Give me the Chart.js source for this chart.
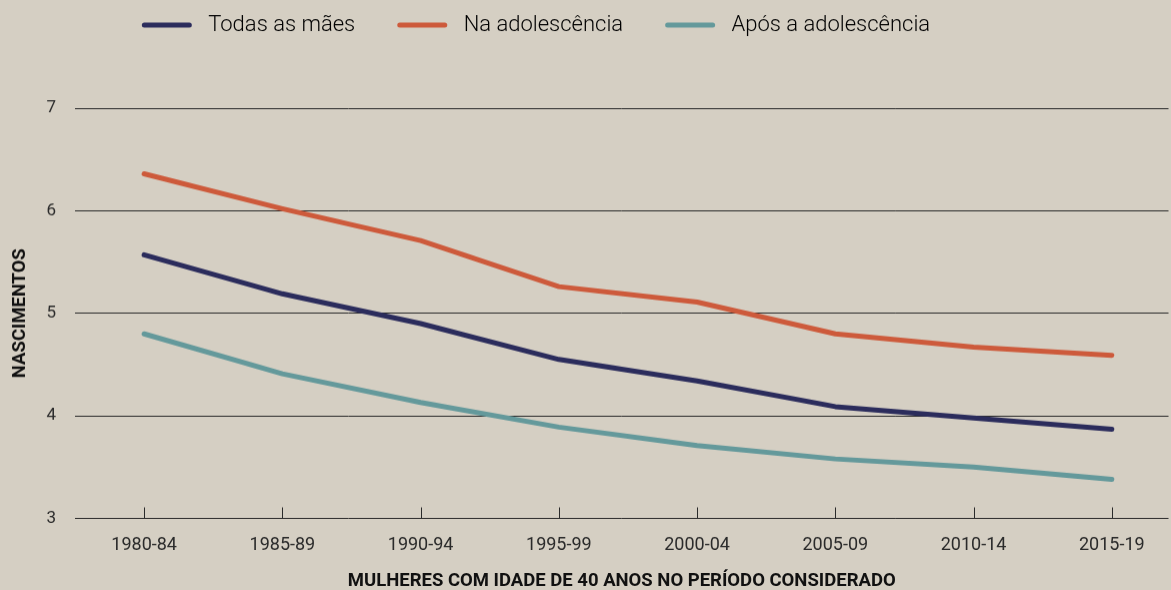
<!DOCTYPE html>
<html>
<head>
<meta charset="utf-8">
<script src="https://cdn.jsdelivr.net/npm/chart.js@4/dist/chart.umd.min.js"></script>
<style>
  html, body { margin: 0; padding: 0; background: #d5cfc3; }
  #wrap { width: 1171px; height: 590px; position: relative; }
</style>
</head>
<body>
<div id="wrap"><canvas id="chart"></canvas></div>
<script>
const periods = ['1980-84', '1985-89', '1990-94', '1995-99', '2000-04', '2005-09', '2010-14', '2015-19']
const todas_as_maes = [5.57, 5.19, 4.90, 4.55, 4.34, 4.09, 3.98, 3.87]
const na_adolescencia = [6.36, 6.02, 5.71, 5.26, 5.11, 4.80, 4.67, 4.59]
const apos_adolescencia = [4.80, 4.41, 4.13, 3.89, 3.71, 3.58, 3.50, 3.38]
const y_ticks = [3, 4, 5, 6, 7]

const ctx = document.querySelector('#chart')

function points(values) {
    return values.map((v, i) => { return { x: i, y: v } })
}

function line_dataset(label, values, color) {
    return {
        label: label,
        data: points(values),
        borderColor: color,
        backgroundColor: color,
        borderWidth: 5,
        borderCapStyle: 'round',
        borderJoinStyle: 'round',
        pointRadius: 0,
        tension: 0,
    }
}

// legend: keep room under it, then nudge it up/left
const legend_gap = {
    id: 'legend_gap',
    beforeInit(chart) {
        const fit = chart.legend.fit
        chart.legend.fit = function () {
            fit.bind(chart.legend)()
            this.height = 104
        }
    },
    beforeDraw(chart) {
        const l = chart.legend
        l.left -= 51
        l.right -= 51
        l.top -= 32
        l.bottom -= 32
        l.adjustHitBoxes()
    },
}

// small ticks pointing up from the axis
const inner_ticks = {
    id: 'inner_ticks',
    afterDraw(chart) {
        const x = chart.scales.x
        const bottom = chart.chartArea.bottom
        const c = chart.ctx
        c.save()
        c.strokeStyle = '#2a2a2a'
        c.lineWidth = 1
        x.ticks.forEach((t, i) => {
            const px = Math.round(x.getPixelForTick(i)) + 0.5
            c.beginPath()
            c.moveTo(px, bottom)
            c.lineTo(px, bottom - 11)
            c.stroke()
        })
        c.restore()
    },
}

Chart.defaults.font.family = 'Roboto, sans-serif'
Chart.defaults.color = '#2a2a2a'

const chart = new Chart(ctx, {
    type: 'line',
    data: {
        datasets: [
            line_dataset('Todas as mães', todas_as_maes, '#2b2c5c'),
            line_dataset('Na adolescência', na_adolescencia, '#cd5a3b'),
            line_dataset('Após a adolescência', apos_adolescencia, '#64999b'),
        ],
    },
    options: {
        responsive: false,
        animation: false,
        layout: {
            padding: { top: 4, right: -3, bottom: 0, left: 0 },
        },
        plugins: {
            tooltip: { enabled: false },
            legend: {
                position: 'top',
                labels: {
                    boxWidth: 50,
                    boxHeight: 5,
                    padding: 42,
                    color: '#2a2a2a',
                    font: { size: 22, weight: 300 },
                    generateLabels: (chart) => chart.data.datasets.map((d, i) => ({
                        text: ' ' + d.label,
                        fillStyle: d.borderColor,
                        strokeStyle: d.borderColor,
                        lineWidth: 0,
                        borderRadius: 2.5,
                        datasetIndex: i,
                    })),
                },
            },
        },
        scales: {
            x: {
                type: 'linear',
                min: -0.5,
                max: 7.41,
                afterBuildTicks: (axis) => {
                    axis.ticks = periods.map((p, i) => ({ value: i }))
                },
                afterFit: (axis) => { axis.height = 68 },
                grid: { display: false },
                border: { display: false },
                ticks: {
                    autoSkip: false,
                    maxRotation: 0,
                    padding: 8,
                    font: { size: 18 },
                    callback: (v) => periods[v],
                },
                title: {
                    display: true,
                    text: 'MULHERES COM IDADE DE 40 ANOS NO PERÍODO CONSIDERADO',
                    font: { size: 18.5, weight: 'bold' },
                    color: '#111',
                    padding: { top: 0, bottom: -6 },
                },
            },
            y: {
                min: 3,
                max: 7,
                afterBuildTicks: (axis) => {
                    axis.ticks = y_ticks.map((v) => ({ value: v }))
                },
                afterFit: (axis) => { axis.width = 75 },
                border: { display: false },
                grid: {
                    color: '#2b2b2b',
                    lineWidth: 1,
                    drawTicks: false,
                },
                ticks: {
                    padding: 19,
                    font: { size: 17 },
                },
                title: {
                    display: true,
                    text: 'NASCIMENTOS',
                    font: { size: 18.5, weight: 'bold' },
                    color: '#111',
                    padding: { top: 9, bottom: 0 },
                },
            },
        },
    },
    plugins: [legend_gap, inner_ticks],
})
ctx.width = 1171
ctx.height = 590
chart.resize(1171, 590)
</script>
</body>
</html>
